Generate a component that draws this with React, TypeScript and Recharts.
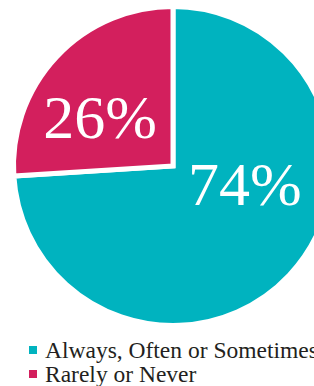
import React from 'react';
import { PieChart, Pie, Cell, Legend } from 'recharts';

const categories = ['Always, Often or Sometimes', 'Rarely or Never'];
const shares = [74, 26];
const colors = ['#00b3bf', '#d31f5d'];

// where each percentage sits, as angle (deg) and distance from the pie centre
const labelAngles = [-14, 146];
const labelRadii = [74, 88];

const data = categories.map((name, i) => ({ name, value: shares[i] }));

const RADIAN = Math.PI / 180;
const SERIF = "'Liberation Serif', 'DejaVu Serif', serif";

const renderLabel = (props: any) => {
  const { cx, cy, index } = props;
  const a = labelAngles[index] * RADIAN;
  const x = cx + labelRadii[index] * Math.cos(a);
  const y = cy - labelRadii[index] * Math.sin(a);
  return (
    <g>
      <text
        x={x}
        y={y}
        fill="#fff"
        textAnchor="middle"
        dominantBaseline="central"
        fontFamily="Liberation Serif"
        fontSize={62}
        style={{ fontFamily: SERIF, fontSize: 62 }}
      >
        {`${shares[index]}%`}
      </text>
    </g>
  );
};

const renderLegend = () => (
  <div style={{ fontFamily: SERIF, fontSize: 23.5, color: '#231f20', lineHeight: '24px', whiteSpace: 'nowrap' }}>
    {categories.map((c, i) => (
      <div key={c} style={{ display: 'flex', alignItems: 'center' }}>
        <span style={{ display: 'inline-block', width: 8, height: 8, background: colors[i], marginRight: 8 }} />
        <span>{c}</span>
      </div>
    ))}
  </div>
);

export default function App() {
  return (
    <div style={{ position: 'absolute', left: 0, top: 0, width: 314, height: 386, overflow: 'hidden', background: '#fff' }}>
      <PieChart width={314} height={386} margin={{ top: 0, right: 0, bottom: 0, left: 0 }}>
        <Pie
          data={data}
          dataKey="value"
          nameKey="name"
          cx={173}
          cy={166}
          outerRadius={159.5}
          startAngle={90}
          endAngle={-270}
          stroke="#fff"
          strokeWidth={5}
          label={renderLabel}
          labelLine={false}
          isAnimationActive={false}
        >
          {data.map((d, i) => (
            <Cell key={d.name} fill={colors[i]} />
          ))}
        </Pie>
        <Legend content={renderLegend} wrapperStyle={{ left: 29, top: 338, width: 'auto' }} />
      </PieChart>
    </div>
  );
}
